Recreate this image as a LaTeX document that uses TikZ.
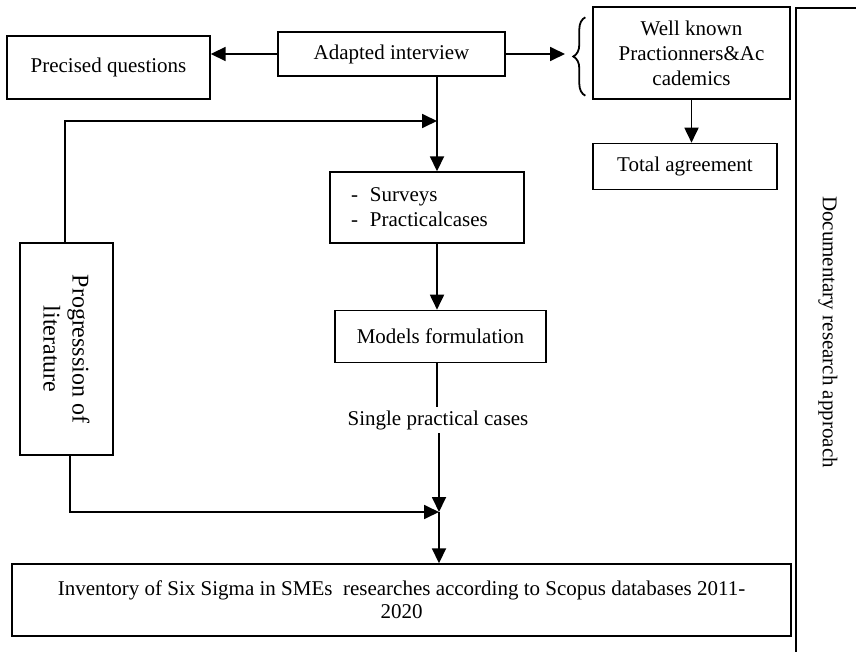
\documentclass[tikz,border=0pt]{standalone}
\usepackage{fontspec}
\setmainfont{Liberation Serif}
\usetikzlibrary{arrows.meta, positioning, decorations.pathreplacing}

\begin{document}
\begin{tikzpicture}[
    x=1pt, y=-1pt,
    every node/.style={font=\fontsize{21}{25}\selectfont},
    box/.style={rectangle, draw=black, line width=1.4pt, align=center,
                inner sep=0pt, fill=white},
    arrow/.style={-{Triangle[length=15pt,width=14pt]}, line width=1.8pt},
    link/.style={line width=1.8pt}
]
\useasboundingbox (0,0) rectangle (856,652);
\node[box, minimum width=227pt, minimum height=44pt] (adapted) at (391.5,54) {Adapted interview};
\node[box, minimum width=203pt, minimum height=63pt] (precised) at (108.5,67.5) {Precised questions};
\node[box, minimum width=197pt, minimum height=92pt] (wellknown) at (691.5,53) {Well known\\Practionners\&Ac\\cademics};
\node[box, minimum width=184pt, minimum height=46pt, below=43pt of wellknown, xshift=-6.5pt] (total) {Total agreement};
\node[box, minimum width=194pt, minimum height=71pt, text width=152pt, inner xsep=21pt, align=left] (surveys) at (427,207.5) {-\hspace{12pt}Surveys\\-\hspace{12pt}Practicalcases};
\node[box, minimum width=211pt, minimum height=52pt, below=66pt of surveys, xshift=13.5pt] (models) {Models formulation};
\node (single) at (438,420) {Single practical cases};
% rotated box: its west anchor is the top, its east anchor the bottom
\node[box, rotate=-90, minimum width=212pt, minimum height=93pt, font=\fontsize{24}{29}\selectfont] (progress) at (66.5,349) {Progresssion of\\literature};
\node[box, minimum width=779pt, minimum height=72pt, font=\fontsize{21}{23}\selectfont] (inventory) at (401.5,600) {Inventory of Six Sigma in SMEs\ \ researches according to Scopus databases 2011-\\2020};
\node[rotate=-90] (approach) at (828,332) {Documentary research approach};
\draw[line width=1.2pt] (856,8) -- (796,8) -- (796,652);

\coordinate (spine) at (437,0);
\coordinate (joinTop) at (437,121);
\coordinate (joinLow) at (439,512);
\coordinate (bracetip) at (565,54);

\draw[link, decorate, decoration={brace, amplitude=12pt}]
    ([xshift=-7pt, yshift=4pt]wellknown.south west) -- ([xshift=-7pt, yshift=-11pt]wellknown.north west);
\draw[arrow] (adapted.west) -- (adapted.west -| precised.east);
\draw[arrow] (adapted.east) -- (bracetip);
\draw[arrow] (wellknown.south) -- (wellknown.south |- total.north);
\draw[arrow] (adapted.south -| spine) -- (surveys.north -| spine);
\draw[arrow] (surveys.south -| spine) -- (models.north -| spine);
\draw[link] (models.south -| spine) -- (single.north -| spine);
\draw[arrow] (single.south -| joinLow) -- (joinLow);
\draw[arrow] (joinLow) -- (inventory.north -| joinLow);
\draw[arrow] ([xshift=-1.5pt]progress.west) |- (joinTop);
\draw[arrow] ([xshift=3.5pt]progress.east) |- (joinLow);
\end{tikzpicture}
\end{document}
